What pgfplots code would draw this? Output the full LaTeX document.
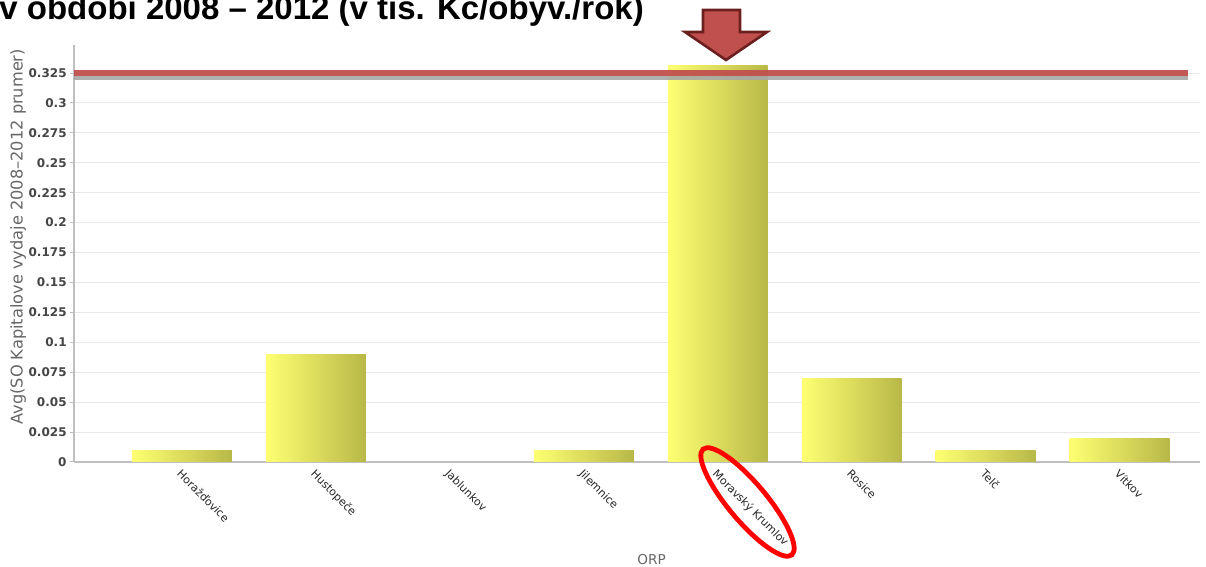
\documentclass[border=0pt]{standalone}
\usepackage{pgfplots}
\pgfplotsset{compat=1.18}
\usepackage{fontspec}
\setmainfont{DejaVu Sans}
\newfontfamily\dejavu{DejaVu Sans}
\newfontfamily\arial{Liberation Sans}
\definecolor{barL}{HTML}{FFFF72}
\definecolor{barR}{HTML}{B8B848}
\definecolor{refred}{HTML}{C0504D}
\definecolor{arrowdark}{HTML}{6B1F1F}
\definecolor{ticktext}{HTML}{454545}
\pgfplotsset{
  mybar/.style={ybar, bar width=0.746, bar shift=0pt, left color=barL, right color=barR, draw=none, forget plot},
}
\begin{document}
\begin{tikzpicture}[x=1pt,y=1pt]
\useasboundingbox (0,0) rectangle (603,283.5);
\begin{axis}[
  at={(37pt,52.5pt)}, anchor=south west,
  scale only axis,
  width=563pt, height=208.5pt,
  xmin=-0.806, xmax=7.6,
  ymin=0, ymax=0.3484,
  axis x line*=bottom, axis y line*=left,
  axis line style={draw=black!25, line width=0.8pt, -},
  ytick={0,0.025,...,0.326},
  ymajorgrids, grid style={draw=black!9, line width=0.5pt},
  yticklabel style={font=\dejavu\bfseries\fontsize{6}{7}\selectfont, text=ticktext, inner sep=0pt, xshift=-1.5pt},
  /pgf/number format/assume math mode=true,
  /pgf/number format/fixed, /pgf/number format/precision=3,
  scaled y ticks=false,
  ytick style={draw=black!25, line width=0.5pt},
  tick align=outside, major tick length=2pt,
  xtick={0,1,2,3,4,5,6,7},
  xticklabels={Horažďovice,Hustopeče,Jablunkov,Jilemnice,Moravský Krumlov,Rosice,Telč,Vítkov},
  xtick style={draw=none},
  xticklabel style={font=\dejavu\fontsize{5.5}{6}\selectfont, text=black!85, xshift=0.3pt, yshift=0.4pt, rotate=-45, anchor=north west, inner sep=1pt},
  every axis x label/.style={at={(axis description cs:0.513,-0.235)}, anchor=center, font=\dejavu\fontsize{6.8}{7}\selectfont, text=black!60},
  xlabel={ORP},
  every axis y label/.style={at={(axis description cs:-0.0497,0.54)}, rotate=90, anchor=center, font=\dejavu\fontsize{8.1}{9}\selectfont, text=black!60},
  ylabel={Avg(SO Kapitalove vydaje 2008–2012 prumer)},
  clip=false,
]
\addplot[mybar] coordinates {(0,0.01)};
\addplot[mybar] coordinates {(1,0.09)};
\addplot[mybar] coordinates {(2,0)};
\addplot[mybar] coordinates {(3,0.01)};
\addplot[mybar] coordinates {(4,0.331)};
\addplot[mybar] coordinates {(5,0.07)};
\addplot[mybar] coordinates {(6,0.01)};
\addplot[mybar] coordinates {(7,0.02)};
\addplot[draw=black!35, line width=2pt, opacity=0.9] coordinates {(-0.806,0.321) (7.51,0.321)};
\addplot[draw=refred, line width=2.6pt, opacity=0.95] coordinates {(-0.806,0.325) (7.51,0.325)};
\end{axis}
% annotations
\node[anchor=base west, inner sep=0pt, font=\arial\bfseries\fontsize{16.5}{18}\selectfont] at (-0.5,273.5) {v období 2008 – 2012 (v tis. Kč/obyv./rok)};
\draw[draw=arrowdark, fill=refred, line width=1.3pt, line join=miter]
  (351.5,278.5) -- (370,278.5) -- (370,267.5) -- (383.5,267.5) -- (363,253.5) -- (342.5,267.5) -- (351.5,267.5) -- cycle;
\draw[red, line width=2.4pt] (373.75,32.5) ellipse[x radius=34.5, y radius=9.5, rotate=-50];
\end{tikzpicture}
\end{document}
